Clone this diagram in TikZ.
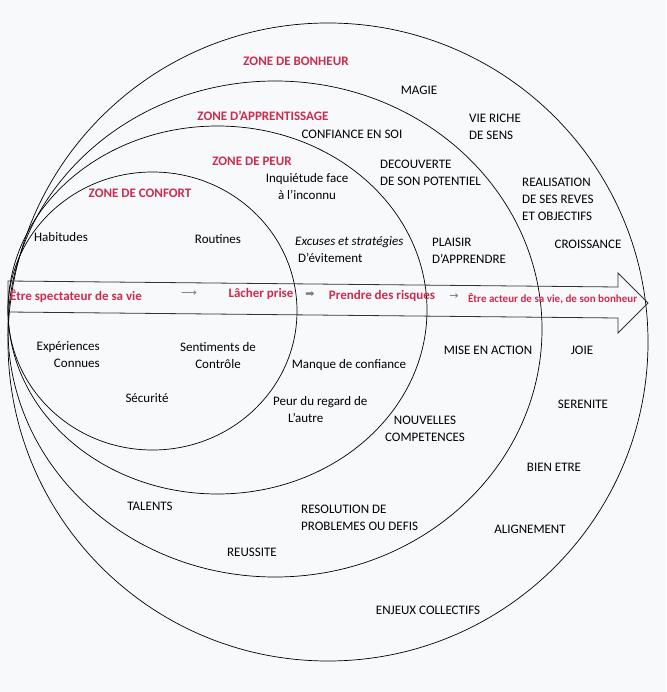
\documentclass[tikz,border=0pt]{standalone}
\usepackage{fontspec}
\setmainfont{Carlito}
\newfontfamily\symfont{DejaVu Sans}
\definecolor{zonered}{RGB}{204,44,78}
\definecolor{paper}{RGB}{248,249,251}
\definecolor{arrowgray}{RGB}{125,125,125}
\begin{document}
\begin{tikzpicture}[x=1pt,y=-1pt,
		lbl/.style={inner sep=0pt, align=center, font=\fontsize{13}{17}\selectfont},
		zone/.style={lbl, text=zonered, font=\bfseries\fontsize{13}{17}\selectfont},
		pathlbl/.style={zone},
		sym/.style={inner sep=0pt, text=arrowgray, font=\symfont\fontsize{11}{13}\selectfont}]
			% page
			\fill[paper] (0,0) rectangle (666,692);
			\useasboundingbox (0,0) rectangle (666,692);
			% zones, from comfort outwards
			\foreach \cx/\cy/\rx/\ry in {152.5/311/144.5/139, 217.5/310/209.5/184, 275/329/267/248, 328/342/320/319} {
				\draw[line width=0.7pt] (\cx,\cy) ellipse [x radius=\rx pt, y radius=\ry pt];
			}
			% big arrow
			\draw[line width=0.8pt, black!80, line join=miter] (8,281) -- (618,287) -- (618,273) -- (648,303)
				-- (618,333) -- (618,318) -- (8,312) -- cycle;
			% zone titles
			\node[zone] (zbonheur) at (296,61) {ZONE DE BONHEUR};
			\node[zone] (zapprent) at (263,116) {ZONE D’APPRENTISSAGE};
			\node[zone] (zpeur) at (252,161) {ZONE DE PEUR};
			\node[zone] (zconfort) at (140,193) {ZONE DE CONFORT};
			% upper half
			\node[lbl] (magie) at (419,90) {MAGIE};
			\node[lbl] (confiance) at (352,134) {CONFIANCE EN SOI};
			\node[lbl, align=left, anchor=west] (vieriche) at (469,127) {VIE RICHE\\DE SENS};
			\node[lbl] (inquietude) at (307,187) {Inquiétude face\\à l’inconnu};
			\node[lbl, align=left, anchor=west] (decouverte) at (380,172.5) {DECOUVERTE\\DE SON POTENTIEL};
			\node[lbl, align=left, anchor=west] (realisation) at (522,199) {REALISATION\\DE SES REVES\\ET OBJECTIFS};
			\node[lbl] (habitudes) at (61,237) {Habitudes};
			\node[lbl] (routines) at (218,239) {Routines};
			\node[lbl, align=left, anchor=west] (excuses) at (295,250) {\textit{Excuses et stratégies}\\\hspace*{3pt}D’évitement};
			\node[lbl, align=left, anchor=west] (plaisir) at (432,251) {PLAISIR\\D’APPRENDRE};
			\node[lbl] (croissance) at (588,244) {CROISSANCE};
			% along the arrow
			\node[pathlbl, anchor=west] (spectateur) at (10,296) {Être spectateur de sa vie};
			\node[sym] (sym1) at (189,294) {⟶};
			\node[pathlbl] (lacher) at (261,294) {Lâcher prise};
			\node[sym] (sym2) at (310,294) {➡};
			\node[pathlbl] (risques) at (382,296) {Prendre des risques};
			\node[sym] (sym3) at (454,297) {→};
			\node[pathlbl, anchor=west, font=\bfseries\fontsize{11}{13}\selectfont] (acteur) at (468,299) {Être acteur de sa vie, de son bonheur};
			% lower half
			\node[lbl, align=right, anchor=east] (experiences) at (100,354.5) {Expériences\\Connues};
			\node[lbl] (sentiments) at (218,355.5) {Sentiments de\\Contrôle};
			\node[lbl] (securite) at (147,398) {Sécurité};
			\node[lbl] (manque) at (349,365) {Manque de confiance};
			\node[lbl, align=left, anchor=west] (regard) at (273,409.5) {Peur du regard de\\\hspace*{15pt}L’autre};
			\node[lbl] (miseaction) at (488,350) {MISE EN ACTION};
			\node[lbl] (joie) at (582,350) {JOIE};
			\node[lbl] (serenite) at (583,404) {SERENITE};
			\node[lbl] (nouvelles) at (425,428.5) {NOUVELLES\\COMPETENCES};
			\node[lbl] (bienetre) at (554,467) {BIEN ETRE};
			\node[lbl] (talents) at (150,506) {TALENTS};
			\node[lbl, align=left, anchor=west] (resolution) at (301,518) {RESOLUTION DE\\PROBLEMES OU DEFIS};
			\node[lbl] (alignement) at (530,529) {ALIGNEMENT};
			\node[lbl] (reussite) at (252,552) {REUSSITE};
			\node[lbl] (enjeux) at (428,610) {ENJEUX COLLECTIFS};
		\end{tikzpicture}
\end{document}
